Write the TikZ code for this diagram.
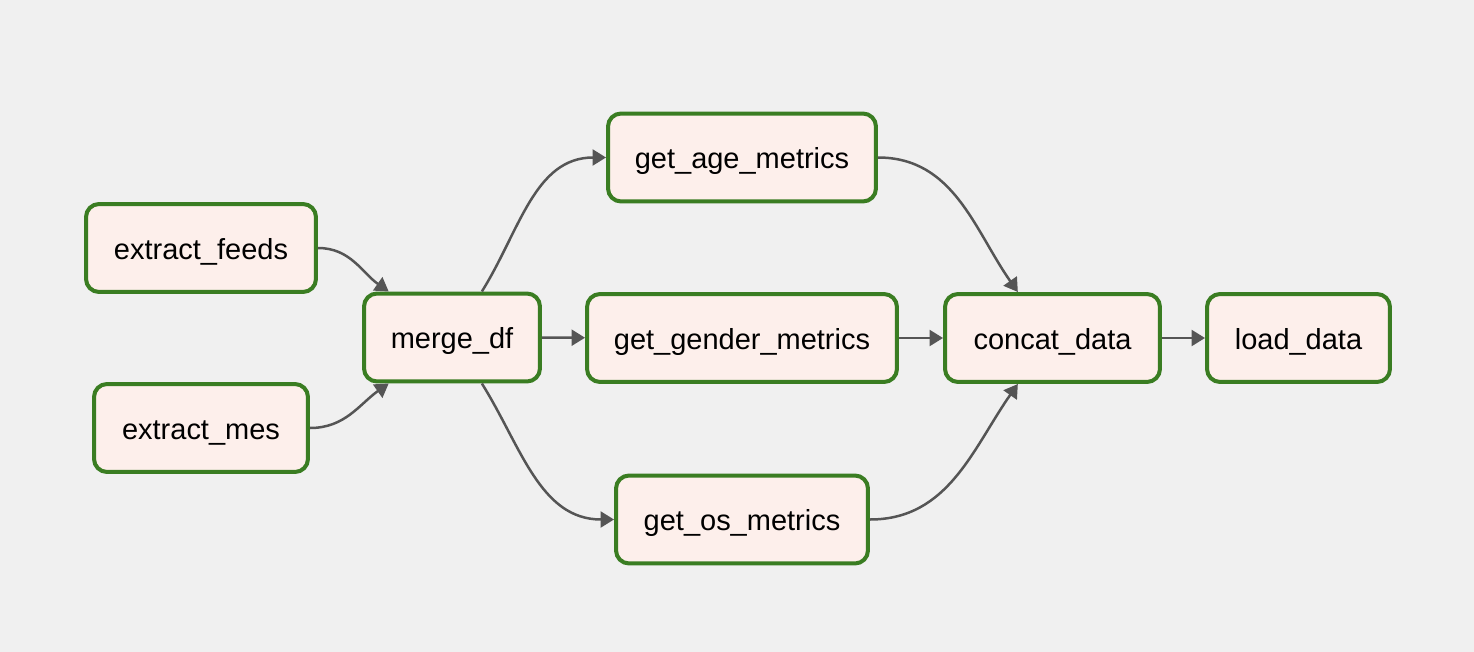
\documentclass[tikz,border=0pt]{standalone}
\usepackage{fontspec}
\setmainfont{Liberation Sans}
\usepackage{tikz}
\usetikzlibrary{arrows.meta}

\definecolor{bggray}{HTML}{F0F0F0}
\definecolor{taskfill}{HTML}{FDEFEB}
\definecolor{taskgreen}{HTML}{3A7D22}
\definecolor{flowgray}{HTML}{555555}

\begin{document}
\begin{tikzpicture}[x=0.02cm,y=-0.02cm,
    task/.style={draw=taskgreen,fill=taskfill,line width=0.08cm,rounded corners=0.26cm,
      minimum height=1.76cm,inner sep=0pt,text height=12.6pt,text depth=0pt,
      font=\fontsize{16.5}{20}\selectfont},
    flow/.style={draw=flowgray,line width=0.05cm,-{Triangle[length=0.27cm,width=0.32cm]}}]

    \fill[bggray] (0,0) rectangle (1474,652);
    \useasboundingbox (0,0) rectangle (1474,652);

    \node[task,minimum width=4.6cm]    (feeds)  at (201, 248)   {extract\_feeds};
    \node[task,minimum width=4.28cm]   (mes)    at (201, 428)   {extract\_mes};
    \node[task,minimum width=3.52cm]   (merge)  at (452, 337.5) {merge\_df};
    \node[task,minimum width=5.36cm]   (age)    at (742, 157.5) {get\_age\_metrics};
    \node[task,minimum width=6.2cm]    (gender) at (742, 338)   {get\_gender\_metrics};
    \node[task,minimum width=5.04cm]   (os)     at (742, 519.5) {get\_os\_metrics};
    \node[task,minimum width=4.3cm]    (concat) at (1052.5, 338) {concat\_data};
    \node[task,minimum width=3.66cm]   (load)   at (1298.5, 338) {load\_data};


    \draw (feeds) edge[flow, out=0, in=145]  (merge.144);
    \draw (mes.east) edge[flow, out=0, in=215]  (merge.216);
    \draw (merge.57) edge[flow, out=58, in=180]  (age);
    \draw (merge) edge[flow]  (gender);
    \draw (merge.303) edge[flow, out=-58, in=180]  (os);
    \draw (age) edge[flow, out=0, in=125] (concat.127);
    \draw (gender) edge[flow] (concat);
    \draw (os) edge[flow, out=0, in=235] (concat.233);
    \draw (concat) edge[flow] (load);
  \end{tikzpicture}
\end{document}
